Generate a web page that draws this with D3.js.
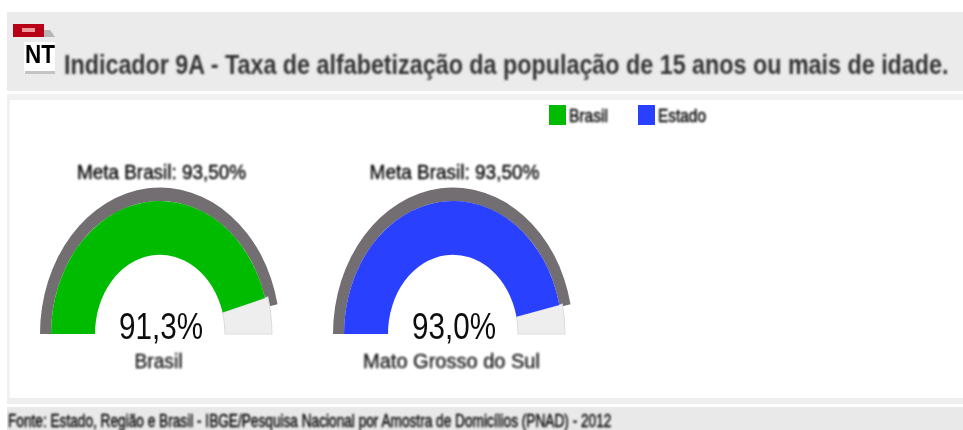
<!DOCTYPE html>
<html>
<head>
<meta charset="utf-8">
<script src="https://cdn.jsdelivr.net/npm/d3@7/dist/d3.min.js"></script>
<style>
  html, body { margin: 0; padding: 0; background: #fff; }
  svg { display: block; }
  text { font-family: "Liberation Sans", Arial, sans-serif; }
</style>
</head>
<body>
<div id="chart-area"></div>
<script>
/* Data */
const gaugeNames = ["Brasil", "Mato Grosso do Sul"];
const gaugeValues = [91.3, 93.0];
const gaugeLabels = ["91,3%", "93,0%"];
const gaugeColors = ["#00bb00", "#2a3fff"];
const metaValue = 93.5;
const metaLabels = ["Meta Brasil: 93,50%", "Meta Brasil: 93,50%"];
const legendNames = ["Brasil", "Estado"];
const titleText = "Indicador 9A - Taxa de alfabetização da população de 15 anos ou mais de idade.";
const sourceText = "Fonte: Estado, Região e Brasil - IBGE/Pesquisa Nacional por Amostra de Domicílios (PNAD) - 2012";

const WIDTH = 963, HEIGHT = 430;

const svg = d3.select("#chart-area").append("svg")
    .attr("width", WIDTH)
    .attr("height", HEIGHT);

// the source picture is a blurry upscale, so everything gets a little softness
const defs = svg.append("defs");
function blur(id, amount) {
    defs.append("filter").attr("id", id)
        .attr("x", "-5%").attr("y", "-30%").attr("width", "110%").attr("height", "160%")
        .append("feGaussianBlur").attr("stdDeviation", amount);
}
blur("edge", 0.5);
blur("soft", 0.7);
blur("softer", 0.9);

/* Page bands */
function band(x, y, w, h, fill) {
    return svg.append("rect").attr("x", x).attr("y", y).attr("width", w).attr("height", h).attr("fill", fill);
}

// sets the text at a font size, then scales it to the wanted width (source is stretched)
function fitText(str, anchorX, baseY, width, size, opts) {
    const sy = opts.sy || 1;
    const t = svg.append("text")
        .attr("text-anchor", opts.anchor || "middle")
        .attr("font-size", size)
        .attr("font-weight", opts.weight || "normal")
        .attr("fill", opts.fill)
        .attr("stroke", opts.fill)
        .attr("stroke-width", opts.thick || 0)
        .attr("filter", `url(#${opts.filter})`)
        .text(str);
    const w = t.node().getComputedTextLength();
    t.attr("transform", `translate(${anchorX},${baseY}) scale(${width / w},${sy})`);
    return t;
}

band(7, 12, WIDTH - 7, 79, "#ebebeb");
band(7, 94, WIDTH - 7, 6, "#f1f1f1");
band(7, 94, 3, 310, "#f1f1f1");
band(7, 398, WIDTH - 7, 6, "#eeeeee");
band(7, 407, WIDTH - 7, 23, "#e9e9e9");

/* Title and icon */
const icon = svg.append("g").attr("filter", "url(#edge)");
icon.append("rect").attr("x", 13).attr("y", 24).attr("width", 31).attr("height", 13).attr("fill", "#b80012");
icon.append("rect").attr("x", 22).attr("y", 28).attr("width", 13).attr("height", 4).attr("fill", "#ef9a9a");
icon.append("path").attr("d", d3.line()([[44, 30], [50, 30], [55, 37], [44, 37]])).attr("fill", "#b5b5b5");
icon.append("rect").attr("x", 24).attr("y", 42).attr("width", 31).attr("height", 31).attr("fill", "#ffffff");
icon.append("rect").attr("x", 25).attr("y", 71).attr("width", 30).attr("height", 3).attr("fill", "#c4c4c4");

fitText("NT", 25, 63, 30, 26, { anchor: "start", weight: "bold", fill: "#000", filter: "edge" });
fitText(titleText, 64, 74, 885, 20, { anchor: "start", weight: "bold", fill: "#333", filter: "soft", sy: 1.4 });

/* Legend */
const legendX = d3.scalePoint().domain(legendNames).range([549, 638]);
const legendColor = d3.scaleOrdinal().domain(legendNames).range(gaugeColors);
const legendWidth = d3.scaleOrdinal().domain(legendNames).range([39, 48]);

legendNames.forEach(d => {
    band(legendX(d), 105, 17, 20, legendColor(d)).attr("filter", "url(#edge)");
    fitText(d, legendX(d) + 20, 122, legendWidth(d), 12, { anchor: "start", fill: "#000", filter: "soft", sy: 1.5, thick: 0.3 });
});

/* Gauges */
const angle = d3.scaleLinear().domain([0, 100]).range([-Math.PI / 2, Math.PI / 2]);
const centerX = d3.scaleOrdinal().domain(gaugeNames).range([160, 453]);
const BASE_Y = 334;
const STRETCH_Y = 1.22; // the source is taller than wide

gaugeNames.forEach((name, i) => {
    const g = svg.append("g")
        .attr("transform", `translate(${centerX(name)},${BASE_Y}) scale(1,${STRETCH_Y})`)
        .attr("filter", "url(#edge)");

    // target ring
    g.append("path")
        .attr("d", d3.arc()({ innerRadius: 109, outerRadius: 120, startAngle: angle(0), endAngle: angle(metaValue) }))
        .attr("fill", "#736e72");

    // unfilled part of the gauge
    g.append("path")
        .attr("d", d3.arc()({ innerRadius: 65, outerRadius: 112, startAngle: angle(gaugeValues[i]), endAngle: angle(100) }))
        .attr("fill", "#eeeeee")
        .attr("stroke", "#dddddd")
        .attr("stroke-width", 1);

    g.append("path")
        .attr("d", d3.arc()({ innerRadius: 65, outerRadius: 109, startAngle: angle(0), endAngle: angle(gaugeValues[i]) }))
        .attr("fill", gaugeColors[i]);

    const cx = centerX(name);
    fitText(metaLabels[i], cx + 1.5, 179, i === 0 ? 169 : 170, 14, { fill: "#000", filter: "soft", sy: 1.4, thick: 0.25 });
    fitText(gaugeLabels[i], cx + 1, 339, 84, 32, { fill: "#111", filter: "edge", sy: 1.15 });
    fitText(name, cx - 1.5, 368, i === 0 ? 48 : 177, 15, { fill: "#111", filter: "soft", sy: 1.35, thick: 0.2 });
});

/* Source line */
fitText(sourceText, 8, 427, 604, 13, { anchor: "start", fill: "#000", filter: "softer", sy: 1.4, thick: 0.3 });
</script>
</body>
</html>
